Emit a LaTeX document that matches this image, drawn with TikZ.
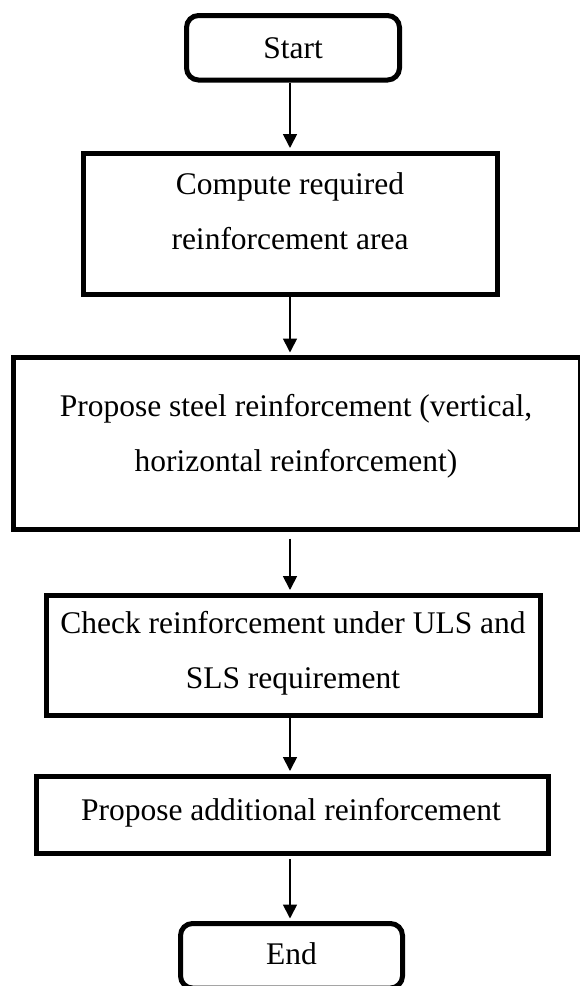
\documentclass[tikz,border=0pt]{standalone}
\usepackage{fontspec}
\setmainfont{Liberation Serif}
\usetikzlibrary{arrows.meta}
\tikzset{
  boxframe/.style={draw=black, line width=5pt, rectangle, inner sep=0pt},
  termframe/.style={boxframe, rounded corners=12pt},
  lbl/.style={font=\fontsize{31.5}{55}\selectfont, align=center, inner sep=0pt},
  flow/.style={draw=black, line width=1.7pt, -{Triangle[width=14pt,length=14pt]}, shorten >=2.5pt}
}
\begin{document}
\begin{tikzpicture}[x=1pt,y=-1pt]
\useasboundingbox (0,0) rectangle (579,986);
\coordinate (axis) at (290,0);

% frames
\node[termframe, minimum width=213, minimum height=64.5] (start) at (293,47.75) {};
\node[boxframe, minimum width=414, minimum height=141.5] (compute) at (290,223.75) {};
\node[boxframe, minimum width=566.5, minimum height=172] (propose) at (296.75,443.5) {};
\node[boxframe, minimum width=494, minimum height=120.5] (check) at (293,655.25) {};
\node[boxframe, minimum width=512, minimum height=77.5] (extra) at (292,814.75) {};
\node[termframe, minimum width=222, minimum height=64.5] (stop) at (291.5,955.75) {};

% texts
\node[lbl] (startT) at (293,48.6) {Start};
\node[lbl] (computeT) at (290,211.6) {Compute required\\reinforcement area};
\node[lbl] (proposeT) at (296,436.4) {Propose steel reinforcement (vertical,\\horizontal reinforcement)};
\node[lbl] (checkT) at (293,653.5) {Check reinforcement under ULS and\\SLS requirement};
\node[lbl] (extraT) at (291,812.5) {Propose additional reinforcement};
\node[lbl] (stopT) at (291.5,954) {End};

% connectors
\draw[flow] (start.south -| axis) -- (compute.north -| axis);
\draw[flow] (compute.south -| axis) -- (propose.north -| axis);
\draw[flow, shorten <=6.5pt] (propose.south -| axis) -- (check.north -| axis);
\draw[flow] (check.south -| axis) -- (extra.north -| axis);
\draw[flow, shorten <=3pt] (extra.south -| axis) -- (stop.north -| axis);
\end{tikzpicture}
\end{document}
